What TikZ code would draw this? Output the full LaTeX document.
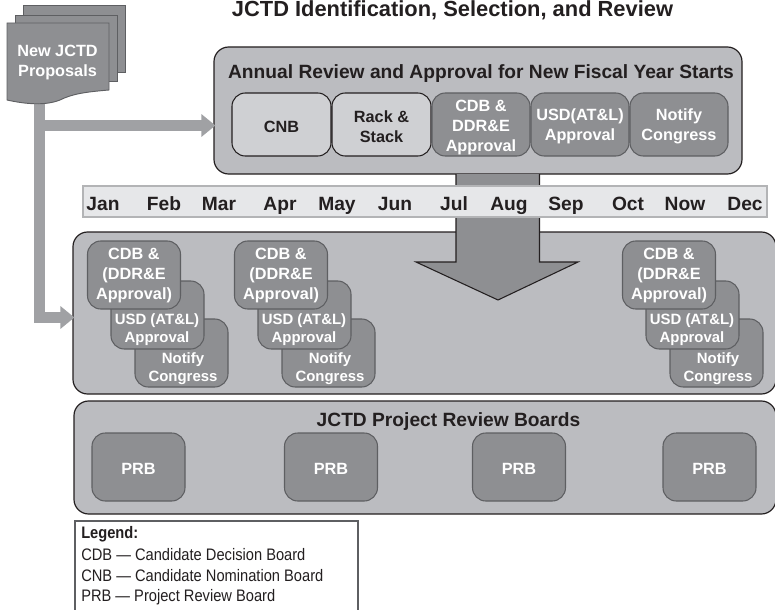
\documentclass[tikz,border=0pt]{standalone}
\usepackage{fontspec}
\setmainfont{Liberation Sans}
\newfontfamily\legendfont[FakeStretch=0.88]{Liberation Sans}
\usetikzlibrary{arrows.meta}
\definecolor{outerfill}{HTML}{BBBCC0}
\definecolor{lightfill}{HTML}{CFD0D3}
\definecolor{darkfill}{HTML}{8E8F92}
\definecolor{barfill}{HTML}{A0A1A4}
\definecolor{stripfill}{HTML}{E6E7E9}
\definecolor{ink}{HTML}{231F20}
\definecolor{midline}{HTML}{5E5F62}
\tikzset{
  x=0.75pt,y=-0.75pt,
  txt/.style={font=\fontsize{12.2pt}{15pt}\selectfont\bfseries,text=ink,align=center,inner sep=0pt,yshift=-1.5pt},
  bigtxt/.style={txt,font=\fontsize{14.4pt}{17pt}\selectfont\bfseries},
  panel/.style={draw=ink,line width=0.9pt,fill=outerfill,rounded corners=11pt},
  lightbox/.style={draw=ink,line width=0.8pt,fill=lightfill,rounded corners=10pt},
  darkbox/.style={draw=midline,line width=0.8pt,fill=darkfill,rounded corners=10pt},
  wtxt/.style={txt,text=white},
  stxt/.style={wtxt,font=\fontsize{11.2pt}{13.5pt}\selectfont\bfseries},
  month/.style={bigtxt,anchor=base},
  fat/.style={draw=barfill,line width=8.25pt,-{Triangle[length=10.5pt,width=16.5pt]},shorten >=-1.5pt},
  sheet/.style={draw=midline,line width=0.7pt,fill=darkfill},
  legendline/.style={font=\legendfont\fontsize{12.5pt}{14pt}\selectfont,text=ink,anchor=west,inner sep=0pt},
}
\newcommand{\boxat}[6]{\node[#1,minimum width=#4*0.75pt,minimum height=#5*0.75pt,inner sep=0pt] (#6) at (#2,#3) {};}
\newcommand{\stackat}[2]{%
  \boxat{darkbox}{181.5+#1}{353}{93}{68}{#2n}
  \node[stxt] (#2nt) at (183+#1,367) {Notify\\Congress};
  \boxat{darkbox}{157.5+#1}{315}{93}{68}{#2u}
  \node[stxt] (#2ut) at (157+#1,328) {USD (AT\&L)\\Approval};
  \boxat{darkbox}{134+#1}{275}{93}{68}{#2c}
  \node[wtxt] (#2ct) at (134+#1,274) {CDB \&\\(DDR\&E\\Approval)};
}
\begin{document}
\begin{tikzpicture}
\useasboundingbox (0,0) rectangle (775,610);
% title
\node[txt,anchor=base,yshift=1.5pt,font=\fontsize{16.4pt}{18pt}\selectfont\bfseries] (title) at (452.5,16.5) {JCTD Identification, Selection, and Review};

% annual review panel
\boxat{panel}{478}{110.5}{528}{127}{review}
\node[bigtxt] (reviewtitle) at (481,72) {Annual Review and Approval for New Fiscal Year Starts};
\boxat{lightbox}{281.5}{124.5}{99}{63}{cnb}
\boxat{lightbox}{381.5}{124.5}{99}{63}{rack}
\boxat{darkbox}{481}{124.5}{98}{63}{cdb}
\boxat{darkbox}{580}{124.5}{98}{63}{usd}
\boxat{darkbox}{679}{124.5}{98}{63}{notify}
\node[txt] at (cnb) {CNB};
\node[txt] at (rack) {Rack \&\\Stack};
\node[wtxt,yshift=-0.75pt] at (cdb) {CDB \&\\DDR\&E\\Approval};
\node[wtxt] at (usd) {USD(AT\&L)\\Approval};
\node[wtxt] at (notify) {Notify\\Congress};

% middle panel
\boxat{panel}{424.5}{313}{703}{162}{midpanel}

% big arrow
\filldraw[draw=ink,line width=0.8pt,fill=darkfill]
  (456,174) -- (456,262) -- (416,262) -- (498,300) -- (578,262) -- (539.5,262) -- (539.5,174);

% month strip
\boxat{draw=barfill!80,line width=0.9pt,fill=stripfill}{425}{201.5}{684}{31}{strip}
\foreach \m/\px in {Jan/103,Feb/164,Mar/219,Apr/280,May/337,Jun/395,Jul/454,Aug/509,Sep/566,Oct/628,Now/685,Dec/745}
  \node[month] (m\m) at (\px,208.5) {\m};

% stacks
\stackat{0}{a}
\stackat{147}{b}
\stackat{535}{c}

% PRB panel
\boxat{panel}{425}{457.5}{702}{113}{prbpanel}
\node[bigtxt] (prbtitle) at (448.5,420) {JCTD Project Review Boards};
\foreach \n/\px in {p1/138.5,p2/331,p3/519,p4/709.5}{
  \boxat{darkbox}{\px}{467}{93}{68}{\n}
  \node[wtxt] at (\n) {PRB};
}

% proposals document
\draw[sheet] (23,5) -- (125,5) -- (125,72) -- (23,72) -- cycle;
\draw[sheet] (15,15) -- (117,15) -- (117,81) -- (15,81) -- cycle;
\coordinate (bendtop) at (39.5,100);
\coordinate (branch) at (39.5,125.5);
\coordinate (bendlow) at (39.5,317.5);
\draw[fat] (branch) -- (review.west |- branch);
\draw[fat] (bendtop) -- (bendlow) -- (midpanel.west |- bendlow);
\filldraw[sheet] (7,23) -- (109,23) -- (109,90)
   .. controls (85,92) and (72,94) .. (60,100)
   .. controls (45,106) and (25,104) .. (7,100) -- cycle;
\node[wtxt] (proposals) at (57.5,60.5) {New JCTD\\Proposals};

% legend
\path[fill=white] (75,521) rectangle (358,610);
\draw[midline,line width=0.8pt] (75,610) -- (75,521) -- (358,521) -- (358,610);
\node[legendline,font=\legendfont\fontsize{12.5pt}{14pt}\selectfont\bfseries] (lg0) at (81,534) {Legend:};
\node[legendline] (lg1) at (81,555) {CDB — Candidate Decision Board};
\node[legendline] (lg2) at (81,576) {CNB — Candidate Nomination Board};
\node[legendline] (lg3) at (81,597.5) {PRB — Project Review Board};
\end{tikzpicture}
\end{document}
